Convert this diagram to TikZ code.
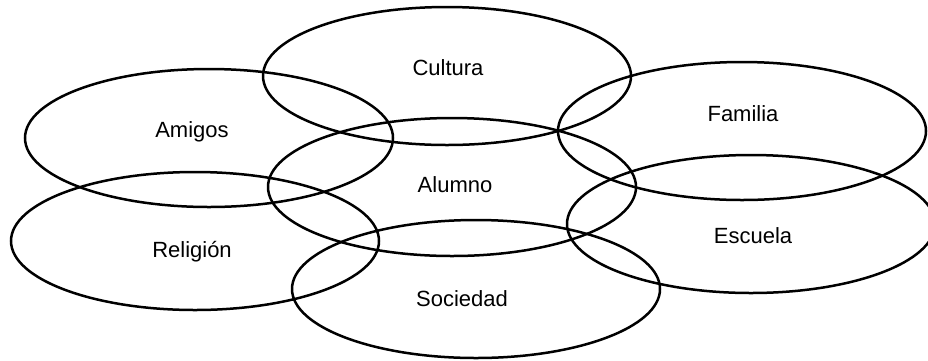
\documentclass[tikz,border=0pt]{standalone}
\usepackage{fontspec}
\setmainfont{Liberation Sans}
\usetikzlibrary{shapes.geometric}
\begin{document}
\begin{tikzpicture}[x=1pt,y=-1pt,
  ring/.style={ellipse, draw=black, line width=2.5pt, inner sep=0pt,
    minimum width=368pt, minimum height=138pt},
  word/.style={anchor=base, inner sep=0pt, font=\fontsize{22}{26}\selectfont}]
\useasboundingbox (0,0) rectangle (928,360);
% rings
\node[ring] (cultura)  at (447,76)  {};
\node[ring] (amigos)   at (209,138) {};
\node[ring] (familia)  at (742,131) {};
\node[ring] (alumno)   at (452,187) {};
\node[ring] (religion) at (195,241) {};
\node[ring] (escuela)  at (751,224) {};
\node[ring] (sociedad) at (476,289) {};
% labels
\node[word] (tcultura)  at (448,75)  {Cultura};
\node[word] (tamigos)   at (192,137) {Amigos};
\node[word] (tfamilia)  at (743,121) {Familia};
\node[word] (talumno)   at (455,192) {Alumno};
\node[word] (treligion) at (192,257) {Religión};
\node[word] (tescuela)  at (753,243) {Escuela};
\node[word] (tsociedad) at (462,306) {Sociedad};
\end{tikzpicture}
\end{document}
